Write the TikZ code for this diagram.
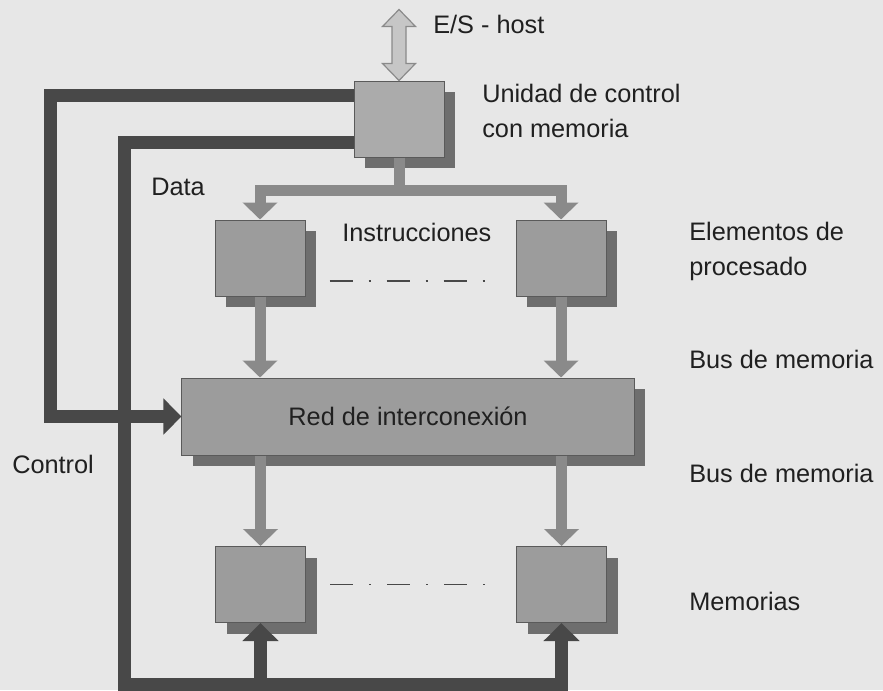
\documentclass[tikz,border=0pt]{standalone}
\usepackage{fontspec}
\setmainfont{Liberation Sans}
\usetikzlibrary{positioning,arrows.meta,shadows}

\definecolor{bgcol}{HTML}{E7E7E7}
\definecolor{boxcol}{HTML}{9C9C9C}
\definecolor{cucol}{HTML}{ABABAB}
\definecolor{shadecol}{HTML}{6E6E6E}
\definecolor{edgecol}{HTML}{5A5A5A}
\definecolor{buscol}{HTML}{8A8A8A}
\definecolor{ctlcol}{HTML}{484848}
\definecolor{escol}{HTML}{C6C6C6}
\definecolor{esedge}{HTML}{8A8A8A}
\definecolor{txtcol}{HTML}{202020}

\begin{document}
\begin{tikzpicture}[
  x=0.25mm, y=-0.25mm,
  unit/.style={draw=edgecol, fill=boxcol, line width=0.25mm, inner sep=0pt,
    minimum width=22.5mm, minimum height=19mm,
    drop shadow={shadow xshift=2.75mm, shadow yshift=-2.75mm, fill=shadecol, opacity=1}},
  cubox/.style={unit, fill=cucol},
  netbox/.style={unit, minimum width=113mm, minimum height=19.25mm, text=txtcol,
    font=\fontsize{18pt}{24pt}\selectfont},
  lbl/.style={inner sep=0pt, align=left, text=txtcol, font=\fontsize{18pt}{24.2pt}\selectfont},
  bus/.style={draw=buscol, line width=2.75mm, -{Triangle[width=8.5mm,length=4.25mm]}},
  ctl/.style={draw=ctlcol, line width=3.25mm, -{Triangle[width=8.75mm,length=4.5mm]}},
  esarr/.style={fill=escol, draw=esedge, line width=0.3mm},
  etc/.style={draw=edgecol!80!black, line width=0.45mm, dash pattern=on 5.75mm off 4mm on 0.5mm off 4mm}
]
  \useasboundingbox (0,0) rectangle (883,690);
  \fill[bgcol] (0,0) rectangle (883,690);

  \node[cubox] (cu) at (399,119) {};
  \node[unit] (pe1) at (260,258) {};
  \node[unit, right=52.5mm of pe1] (pe2) {};
  \node[netbox] (red) at (408,416.5) {Red de interconexión};
  \node[unit] (mem1) at (260.5,584.5) {};
  \node[unit, right=52.5mm of mem1] (mem2) {};

  \draw[etc] ([xshift=6mm,yshift=-5.75mm]pe1.east) -- ([xshift=-7.25mm,yshift=-5.75mm]pe2.west);
  \draw[etc] ([xshift=6mm]mem1.east) -- ([xshift=-7.25mm]mem2.west);

  \filldraw[esarr] (cu.north) -- ++(-16.5,-17) -- ++(9.5,0) -- ++(0,-37) -- ++(-9.5,0)
    -- ++(16.5,-17) -- ++(16.5,17) -- ++(-9.5,0) -- ++(0,37) -- ++(9.5,0) -- cycle;

  \coordinate (split) at (399,190);
  \draw[bus] (cu.south) -- (split) -| (pe1.north);
  \draw[bus] (split) -| (pe2.north);
  \draw[bus] (pe1.south) -- (pe1.south |- red.north);
  \draw[bus] (pe2.south) -- (pe2.south |- red.north);
  \draw[bus] (mem1.north |- red.south) -- (mem1.north);
  \draw[bus] (mem2.north |- red.south) -- (mem2.north);

  \coordinate (ctlx) at (50,0);
  \coordinate (datax) at (124,684);
  \draw[ctl] ([yshift=-15.5mm]cu.north west) -| (datax) -| (mem2.south);
  \draw[ctl] (mem1.south |- datax) -- (mem1.south);
  \draw[ctl] ([yshift=-3.75mm]cu.north west) -| (ctlx |- red.west) -- (red.west);

  \node[lbl, anchor=base west] (eslbl) at (433,33) {E/S - host};
  \node[lbl, anchor=base west] (culbl) at (482,137) {Unidad de control\\con memoria};
  \node[lbl, anchor=base west] (datalbl) at (151,195) {Data};
  \node[lbl, anchor=base west] (inslbl) at (342,241) {Instrucciones};
  \node[lbl, anchor=base west] (pelbl) at (689,275) {Elementos de\\procesado};
  \node[lbl, anchor=base west] (bus1lbl) at (689,368) {Bus de memoria};
  \node[lbl, anchor=base west] (bus2lbl) at (689,482) {Bus de memoria};
  \node[lbl, anchor=base west] (memlbl) at (689,610) {Memorias};
  \node[lbl, anchor=base west] (ctllbl) at (12,473) {Control};
\end{tikzpicture}
\end{document}
